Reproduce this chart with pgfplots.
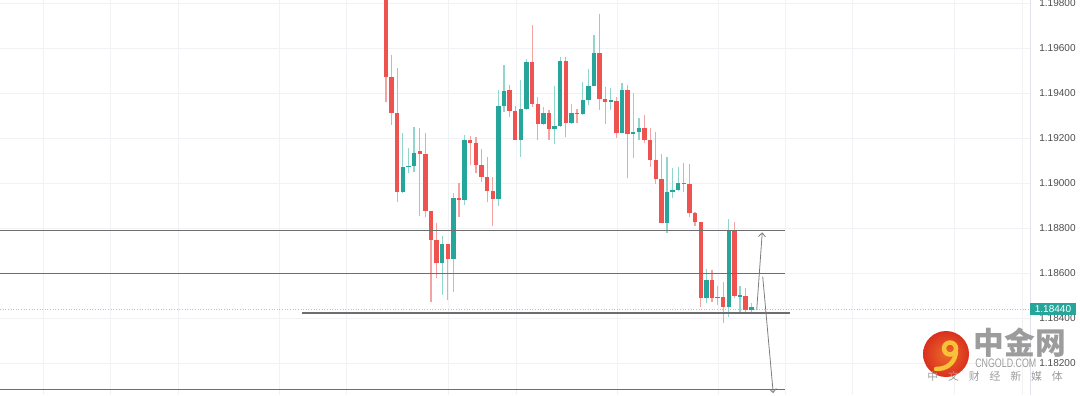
\documentclass[border=0pt]{standalone}
\usepackage{fontspec}
\setmainfont{Liberation Sans}
\newfontfamily\cjk{Noto Sans CJK SC}
\usepackage{pgfplots}
\pgfplotsset{compat=1.18}
\usepackage{pgfplotstable}
\usetikzlibrary{arrows.meta}
\definecolor{bodyred}{HTML}{EF5350}
\definecolor{bodygreen}{HTML}{26A69A}
\definecolor{wickred}{HTML}{F5A3A0}
\definecolor{wickgreen}{HTML}{92D5CC}
\definecolor{gridc}{HTML}{F0F2F5}
\definecolor{sepc}{HTML}{E0E3EB}
\definecolor{levelc}{HTML}{6E6E6E}
\definecolor{tickc}{HTML}{4D4D4D}
\definecolor{wmgray}{HTML}{9C9C9C}
\definecolor{logored}{HTML}{D9301E}
\definecolor{logoorange}{HTML}{EE6A2A}
\definecolor{logoyellow}{HTML}{F7C23A}

\pgfplotstableread{
i O H L C
1 1.19900 1.19950 1.19361 1.19473
2 1.19473 1.19569 1.19258 1.19313
3 1.19313 1.19510 1.18917 1.18959
7 1.19140 1.19246 1.18853 1.19130
8 1.19129 1.19224 1.18850 1.18877
9 1.18877 1.18877 1.18473 1.18747
10 1.18747 1.18821 1.18576 1.18643
12 1.18727 1.18727 1.18480 1.18661
14 1.18932 1.18999 1.18850 1.18925
16 1.19191 1.19209 1.19080 1.19176
17 1.19176 1.19203 1.19043 1.19080
18 1.19080 1.19150 1.19006 1.19028
19 1.19028 1.19114 1.18917 1.18966
20 1.18966 1.19028 1.18809 1.18929
23 1.19413 1.19436 1.19295 1.19320
24 1.19320 1.19342 1.19191 1.19191
27 1.19536 1.19702 1.19339 1.19351
28 1.19351 1.19384 1.19191 1.19262
30 1.19310 1.19324 1.19191 1.19239
33 1.19542 1.19561 1.19203 1.19265
35 1.19310 1.19327 1.19268 1.19305
39 1.19576 1.19751 1.19324 1.19372
40 1.19372 1.19425 1.19262 1.19361
42 1.19366 1.19384 1.19201 1.19224
44 1.19413 1.19436 1.19021 1.19216
47 1.19243 1.19302 1.19176 1.19191
48 1.19191 1.19243 1.19073 1.19102
49 1.19102 1.19228 1.18996 1.19016
50 1.19016 1.19129 1.18821 1.18824
54 1.19001 1.19087 1.18961 1.18996
55 1.18996 1.19084 1.18850 1.18865
56 1.18865 1.18870 1.18810 1.18825
57 1.18825 1.18825 1.18450 1.18487
59 1.18569 1.18613 1.18472 1.18487
61 1.18495 1.18561 1.18376 1.18447
63 1.18788 1.18828 1.18490 1.18498
65 1.18498 1.18532 1.18421 1.18436
}\redtab

\pgfplotstableread{
i O H L C
4 1.18959 1.19224 1.18955 1.19070
5 1.19070 1.19154 1.19046 1.19076
6 1.19075 1.19249 1.19050 1.19135
11 1.18643 1.18764 1.18502 1.18727
13 1.18661 1.18954 1.18517 1.18932
15 1.18925 1.19213 1.18902 1.19191
21 1.18929 1.19413 1.18898 1.19342
22 1.19342 1.19524 1.19317 1.19410
25 1.19191 1.19458 1.19117 1.19327
26 1.19327 1.19550 1.19325 1.19536
29 1.19262 1.19336 1.19258 1.19310
31 1.19239 1.19431 1.19173 1.19253
32 1.19253 1.19561 1.19250 1.19542
34 1.19265 1.19351 1.19262 1.19310
36 1.19305 1.19450 1.19303 1.19369
37 1.19369 1.19507 1.19347 1.19431
38 1.19431 1.19658 1.19430 1.19576
41 1.19361 1.19421 1.19324 1.19366
43 1.19224 1.19446 1.19222 1.19413
45 1.19216 1.19399 1.19110 1.19228
46 1.19228 1.19287 1.19191 1.19243
51 1.18824 1.19117 1.18776 1.18961
52 1.18961 1.19065 1.18932 1.18969
53 1.18969 1.19070 1.18964 1.19001
58 1.18487 1.18616 1.18465 1.18569
60 1.18487 1.18542 1.18458 1.18495
62 1.18447 1.18840 1.18406 1.18788
64 1.18495 1.18542 1.18421 1.18502
66 1.18436 1.18468 1.18428 1.18447
}\greentab

\begin{document}
\begin{tikzpicture}
\begin{axis}[
  at={(0,0)}, anchor=south west,
  scale only axis, width=20.6cm, height=7.9cm,
  xmin=-67.68, xmax=115.59,
  ymin=1.180578, ymax=1.198133,
  axis line style={draw=none},
  xtick={-60.03,-48.11,-36.01,-18.04,-6.12,12.03,24.13,42.1,60.07,71.99,83.91,102.06,114.17}, xticklabels={},
  ytick={1.182,1.184,1.186,1.188,1.190,1.192,1.194,1.196,1.198},
  xmajorgrids, ymajorgrids,
  grid style={draw=gridc, line width=0.5pt},
  major tick length=0pt,
  yticklabel pos=right,
  yticklabel style={anchor=west, inner sep=0pt, xshift=0.18cm, text=tickc,
    font=\fontsize{5.7}{6}\selectfont},
  /pgf/number format/.cd, fixed, precision=5, zerofill, 1000 sep={}, assume math mode=true,
]
% price level dotted line
\addplot[bodygreen!50, densely dotted, line width=0.5pt, forget plot] coordinates {(-67.68,1.18440) (115.59,1.18440)};
% wicks
\addplot[draw=none, mark=none, forget plot, error bars/.cd, y dir=plus, y explicit, error mark=none,
  error bar style={draw=wickred, line width=0.7pt}]
  table[x=i, y=L, y error plus expr={\thisrow{H}-\thisrow{L}}] {\redtab};
\addplot[draw=none, mark=none, forget plot, error bars/.cd, y dir=plus, y explicit, error mark=none,
  error bar style={draw=wickgreen, line width=0.7pt}]
  table[x=i, y=L, y error plus expr={\thisrow{H}-\thisrow{L}}] {\greentab};
% bodies
\addplot[draw=none, mark=none, forget plot, error bars/.cd, y dir=plus, y explicit, error mark=none,
  error bar style={draw=bodyred, line width=2.5pt}]
  table[x=i, y expr={min(\thisrow{O},\thisrow{C})}, y error plus expr={max(abs(\thisrow{O}-\thisrow{C}),0.00006)}] {\redtab};
\addplot[draw=none, mark=none, forget plot, error bars/.cd, y dir=plus, y explicit, error mark=none,
  error bar style={draw=bodygreen, line width=2.5pt}]
  table[x=i, y expr={min(\thisrow{O},\thisrow{C})}, y error plus expr={max(abs(\thisrow{O}-\thisrow{C}),0.00006)}] {\greentab};
% horizontal levels
\addplot[levelc, line width=0.65pt] coordinates {(-67.68,1.18787) (72.0,1.18787)};
\addplot[levelc, line width=0.65pt] coordinates {(-67.68,1.18596) (72.0,1.18596)};
\addplot[levelc, line width=0.65pt] coordinates {(-13.94,1.18422) (72.89,1.18422)};
\addplot[levelc, line width=0.65pt] coordinates {(-67.68,1.18084) (72.0,1.18084)};
% projection arrows
\addplot[levelc!90, line width=0.45pt, -{Straight Barb[length=2.2pt,width=4pt]}] coordinates {(66.96,1.18436) (67.95,1.18781)};
\addplot[levelc!90, line width=0.45pt, -{Straight Barb[length=2.2pt,width=4pt]}] coordinates {(68.03,1.18584) (69.9,1.18066)};
\coordinate (pl) at (axis cs:115.59,1.18440);
\end{axis}
\draw[sepc, line width=0.5pt] (20.6,0) -- (20.6,7.9);
\node[fill=bodygreen, text=white, anchor=west, inner xsep=0.09cm, inner ysep=0pt,
  minimum height=0.25cm, font=\fontsize{5.7}{6}\selectfont] at (pl) {1.18440};
% watermark
\shade[inner color=logoorange, outer color=logored] (18.92,0.82) circle (0.46);
\draw[logoyellow, line width=0.09cm] (19.0,0.93) circle (0.12);
\draw[logoyellow, line width=0.09cm, line cap=round] (19.12,0.85) .. controls (19.08,0.6) and (18.9,0.52) .. (18.72,0.52);
\node[wmgray, font=\cjk\bfseries\fontsize{17.5}{18}\selectfont, inner sep=0pt] at (20.4,1.05) {中金网};
\node[wmgray, font=\fontsize{7}{7}\selectfont, inner sep=0pt, xscale=0.72, anchor=west] at (19.5,0.64) {CNGOLD.COM};
\node[wmgray, font=\cjk\fontsize{6.2}{6.2}\selectfont, inner sep=0pt] at (19.9,0.37) {中\hspace{5.6pt}文\hspace{5.6pt}财\hspace{5.6pt}经\hspace{5.6pt}新\hspace{5.6pt}媒\hspace{5.6pt}体};
\pgfresetboundingbox
\path[use as bounding box] (0,0) rectangle (21.6,7.9);
\end{tikzpicture}
\end{document}
